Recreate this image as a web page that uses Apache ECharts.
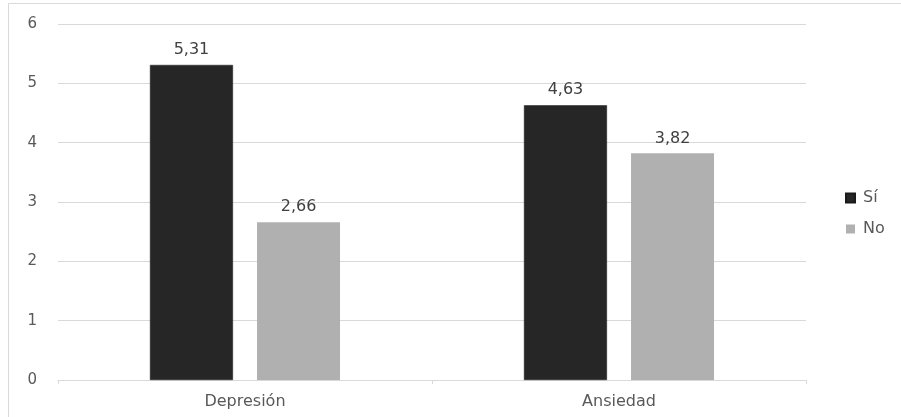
<!DOCTYPE html>
<html>
<head>
<meta charset="utf-8">
<script src="https://cdn.jsdelivr.net/npm/echarts@6/dist/echarts.min.js"></script>
<style>
  html, body { margin: 0; padding: 0; background: #ffffff; }
  #chart { width: 901px; height: 417px; }
</style>
</head>
<body>
<div id="chart"></div>
<script>
// Categories and mean scores per group
const categories = ['Depresión', 'Ansiedad'];
const siValues = [5.31, 4.63];
const noValues = [2.66, 3.82];
const seriesNames = ['Sí', 'No'];
const yTicks = [0, 1, 2, 3, 4, 5, 6];

const FONT = '"DejaVu Sans", Verdana, sans-serif';
const fmt = v => v.toFixed(2).replace('.', ',');

const chart = echarts.init(document.getElementById('chart'), null, { renderer: 'canvas' });

const labelStyle = {
  show: true,
  position: 'top',
  distance: 7,
  color: '#404040',
  fontSize: 16,
  fontFamily: FONT,
  formatter: p => fmt(p.value)
};

chart.setOption({
  animation: false,
  backgroundColor: '#ffffff',
  graphic: [{
    type: 'rect',
    shape: { x: 8.5, y: 3.5, width: 900, height: 420 },
    style: { fill: 'none', stroke: '#d9d9d9', lineWidth: 1 },
    silent: true
  }],
  grid: { left: 58, right: 95, top: 24, bottom: 37 },
  legend: {
    orient: 'vertical',
    left: 845,
    top: 190,
    padding: 0,
    itemWidth: 9,
    itemHeight: 9,
    itemGap: 15,
    icon: 'rect',
    textStyle: { color: '#595959', fontSize: 16, fontFamily: FONT, padding: [0, 0, 0, 3] },
    data: seriesNames
  },
  xAxis: {
    type: 'category',
    data: categories,
    axisLine: { lineStyle: { color: '#d9d9d9', width: 1 } },
    axisTick: { show: true, alignWithLabel: false, length: 4, lineStyle: { color: '#d9d9d9' } },
    axisLabel: { color: '#595959', fontSize: 16, fontFamily: FONT, margin: 14 }
  },
  yAxis: {
    type: 'value',
    min: yTicks[0],
    max: yTicks[yTicks.length - 1],
    interval: 1,
    axisLine: { show: false },
    axisTick: { show: false },
    axisLabel: { color: '#595959', fontSize: 15, fontFamily: FONT, margin: 21 },
    splitLine: { lineStyle: { color: '#d9d9d9', width: 1 } }
  },
  series: [
    {
      name: seriesNames[0],
      type: 'bar',
      data: siValues,
      barWidth: 83,
      barGap: '29%',
      itemStyle: { color: '#262626', borderColor: '#1a1a1a', borderWidth: 0.5 },
      label: labelStyle
    },
    {
      name: seriesNames[1],
      type: 'bar',
      data: noValues,
      barWidth: 83,
      itemStyle: { color: '#b0b0b0' },
      label: labelStyle
    }
  ]
});
</script>
</body>
</html>
